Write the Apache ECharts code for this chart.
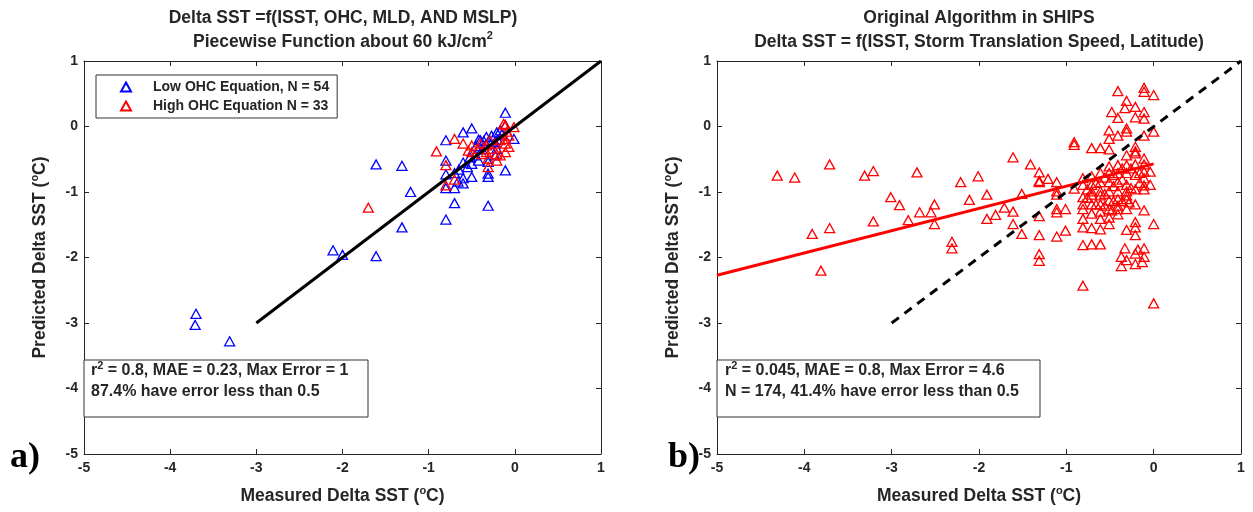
<!DOCTYPE html>
<html>
<head>
<meta charset="utf-8">
<script src="https://cdn.jsdelivr.net/npm/echarts@6/dist/echarts.min.js"></script>
<style>
  html, body { margin: 0; padding: 0; background: #fff; }
  #chart { width: 1253px; height: 512px; }
</style>
</head>
<body>
<div id="chart"></div>
<script>
// Panel a): predicted vs measured Delta SST, piecewise OHC model
const lowOhc = [
  [-3.70, -2.86], [-3.71, -3.03], [-3.31, -3.28], [-2.11, -1.89], [-2.00, -1.96],
  [-1.61, -1.98], [-1.61, -0.58], [-1.31, -0.60], [-1.21, -1.00], [-1.31, -1.54],
  [-0.80, -1.42], [-0.70, -1.17], [-0.31, -1.21], [-0.11, 0.21], [-0.11, -0.67],
  [-0.80, -0.21], [-0.60, -0.09], [-0.50, -0.03], [-0.80, -0.52], [-0.80, -0.73],
  [-0.80, -0.94], [-0.70, -0.94], [-0.70, -0.71], [-0.60, -0.55], [-0.60, -0.87],
  [-0.60, -0.79], [-0.50, -0.77], [-0.50, -0.57], [-0.46, -0.44], [-0.31, -0.77],
  [-0.31, -0.72], [-0.42, -0.20], [-0.40, -0.21], [-0.33, -0.16], [-0.27, -0.14],
  [-0.21, -0.09], [-0.11, 0.02], [-0.01, -0.19], [-0.21, -0.34], [-0.23, -0.44],
  [-0.31, -0.54], [-0.52, -0.47], [-0.23, -0.24], [-0.17, -0.06], [-0.45, -0.30],
  [-0.55, -0.62], [-0.65, -0.66], [-0.38, -0.35], [-0.28, -0.27], [-0.15, -0.12],
  [-0.42, -0.52], [-0.20, -0.20], [-0.36, -0.22], [-0.66, -0.84]
];
const highOhc = [
  [-1.70, -1.24], [-0.91, -0.38], [-0.70, -0.19], [-0.60, -0.26], [-0.80, -0.59],
  [-0.70, -0.81], [-0.80, -0.90], [-0.50, -0.29], [-0.50, -0.39], [-0.40, -0.26],
  [-0.42, -0.34], [-0.33, -0.29], [-0.33, -0.39], [-0.31, -0.49], [-0.31, -0.62],
  [-0.21, -0.52], [-0.21, -0.42], [-0.11, 0.02], [-0.13, 0.04], [-0.01, -0.01],
  [-0.11, -0.19], [-0.11, -0.26], [-0.11, -0.39], [-0.07, -0.14], [-0.17, -0.21],
  [-0.23, -0.26], [-0.27, -0.34], [-0.09, -0.08], [-0.38, -0.42], [-0.54, -0.37],
  [-0.07, -0.31], [-0.17, -0.44], [-0.29, -0.21]
];
const fitA = [[-3, -3], [1, 1]];

// Panel b): original SHIPS algorithm
const ships = [
  [-4.31, -0.75], [-4.11, -0.78], [-3.71, -0.58], [-3.91, -1.64], [-3.71, -1.55],
  [-3.81, -2.20], [-3.31, -0.75], [-3.21, -0.68], [-3.21, -1.45], [-3.01, -1.08],
  [-2.91, -1.20], [-2.81, -1.43], [-2.71, -0.70], [-2.68, -1.31], [-2.55, -1.31],
  [-2.51, -1.19], [-2.51, -1.49], [-2.31, -1.76], [-2.31, -1.86], [-2.21, -0.85],
  [-2.11, -1.12], [-2.01, -0.76], [-1.91, -1.04], [-1.91, -1.41], [-1.81, -1.35],
  [-1.71, -1.24], [-1.61, -0.47], [-1.61, -1.30], [-1.61, -1.49], [-1.51, -1.03],
  [-1.51, -1.64], [-1.41, -0.58], [-1.31, -0.70], [-1.31, -0.83], [-1.31, -0.85],
  [-1.31, -1.37], [-1.31, -1.66], [-1.31, -1.95], [-1.31, -2.05], [-1.21, -0.80],
  [-1.11, -0.85], [-1.11, -0.99], [-1.11, -1.04], [-1.11, -1.26], [-1.11, -1.31],
  [-1.11, -1.68], [-1.01, -1.26], [-1.01, -1.59], [-0.91, -0.24], [-0.91, -0.28],
  [-0.91, -0.95], [-0.81, -2.43], [-0.81, -1.81], [-0.81, -1.41], [-0.81, -1.54],
  [-0.81, -1.19], [-0.81, -1.26], [-0.81, -1.08], [-0.71, -0.33], [-0.71, -1.80],
  [-0.71, -1.55], [-0.61, -0.33], [-0.61, -1.80], [-0.61, -1.57], [-0.51, -0.35],
  [-0.41, 0.54], [-0.48, 0.22], [-0.51, -0.06], [-0.41, -0.14], [-0.41, 0.13],
  [-0.31, 0.39], [-0.33, 0.28], [-0.31, -0.03], [-0.31, -0.08], [-0.21, 0.30],
  [-0.21, 0.14], [-0.11, 0.59], [-0.11, 0.53], [-0.11, 0.22], [-0.11, 0.12],
  [-0.11, -0.14], [0.00, 0.48], [0.00, -0.08], [0.00, -1.49], [0.00, -2.70],
  [-0.11, -1.28], [-0.11, -1.99], [-0.13, -2.07], [-0.21, -2.10], [-0.18, -1.88],
  [-0.21, -1.66], [-0.21, -1.54], [-0.21, -1.46], [-0.31, -1.58], [-0.33, -1.86],
  [-0.37, -1.99], [-0.37, -2.13], [-0.31, -2.04], [-0.31, -1.26], [-0.28, -1.16],
  [-0.21, -0.38], [-0.21, -0.41], [-0.11, -0.49], [-0.11, -0.58], [-0.11, -0.69],
  [-0.11, -0.79], [-0.11, -0.90], [-0.04, -0.89], [-0.21, -0.58], [-0.21, -0.74],
  [-0.31, -0.59], [-0.31, -0.71], [-0.31, -0.89], [-0.31, -0.99], [-0.31, -1.05],
  [-0.21, -0.96], [-0.41, -0.71], [-0.41, -0.85], [-0.41, -0.99], [-0.41, -1.11],
  [-0.41, -1.21], [-0.41, -1.34], [-0.48, -1.28], [-0.51, -1.39], [-0.51, -1.49],
  [-0.51, -1.26], [-0.51, -1.13], [-0.51, -0.99], [-0.51, -0.85], [-0.51, -0.71],
  [-0.51, -0.61], [-0.61, -0.71], [-0.61, -0.85], [-0.61, -0.99], [-0.61, -1.05],
  [-0.61, -1.19], [-0.61, -1.30], [-0.61, -1.41], [-0.71, -0.76], [-0.71, -0.89],
  [-0.71, -0.99], [-0.71, -1.04], [-0.71, -1.33], [-0.71, -1.19], [-0.81, -0.79],
  [-0.81, -0.89], [-0.76, -0.96], [-0.56, -0.78], [-0.46, -0.91], [-0.36, -1.14],
  [-0.26, -0.94], [-0.16, -0.71], [-0.16, -0.86], [-0.26, -0.64], [-0.36, -0.81],
  [-0.46, -1.14], [-0.56, -1.03], [-0.66, -0.86], [-0.21, -0.31], [-0.41, -1.26],
  [-0.31, -1.11], [-0.11, -0.96], [-0.04, -0.69], [-0.21, -1.19], [-0.36, -0.64],
  [-0.46, -0.74], [-0.56, -1.21], [-0.66, -1.19], [-0.76, -1.09], [-0.11, -1.86],
  [-0.21, -1.94], [-0.51, -0.19], [-0.31, -0.44], [-0.41, -0.59]
];
const fitB = [[-5, -2.27], [0, -0.57]];
const oneToOne = [[-3, -3], [1, 1]];

const legendNames = ['Low OHC Equation, N = 54', 'High OHC Equation N = 33'];
const statsA = ['r{sup|2} = 0.8, MAE = 0.23, Max Error = 1', '87.4% have error less than 0.5'];
const statsB = ['r{sup|2} = 0.045, MAE = 0.8, Max Error = 4.6', 'N = 174, 41.4% have error less than 0.5'];
const titleA = ['Delta SST =f(ISST, OHC, MLD, AND MSLP)', 'Piecewise Function about 60 kJ/cm{sup|2}'];
const titleB = ['Original Algorithm in SHIPS', 'Delta SST = f(ISST, Storm Translation Speed, Latitude)'];
const xName = 'Measured Delta SST ({sup|o}C)';
const yName = 'Predicted Delta SST ({sup|o}C)';

const FONT = '"Liberation Sans", Arial, Helvetica, sans-serif';
const AXIS_COLOR = '#262626';
const TEXT_COLOR = '#262626';
const supStyle = { fontSize: 11, fontWeight: 'bold', fontFamily: FONT, verticalAlign: 'top', lineHeight: 11, color: TEXT_COLOR };

const chart = echarts.init(document.getElementById('chart'), null, { renderer: 'canvas', width: 1253, height: 512 });

const grids = [
  { left: 84, top: 61, width: 517, height: 394 },
  { left: 717, top: 61, width: 524, height: 394 }
];

const nameStyle = {
  fontFamily: FONT, fontWeight: 'bold', fontSize: 17.5, color: TEXT_COLOR, lineHeight: 22,
  rich: { sup: supStyle }
};
const labelStyle = { fontFamily: FONT, fontWeight: 'bold', fontSize: 14, color: TEXT_COLOR };

function mainX(gi) {
  return {
    type: 'value', gridIndex: gi, min: -5, max: 1, interval: 1, position: 'bottom',
    name: xName, nameLocation: 'middle', nameGap: 31, nameTextStyle: nameStyle,
    axisLine: { onZero: false, lineStyle: { color: AXIS_COLOR, width: 1 } },
    axisTick: { inside: true, length: 5, lineStyle: { color: AXIS_COLOR } },
    axisLabel: Object.assign({ margin: 7 }, labelStyle),
    splitLine: { show: false }
  };
}
function mainY(gi) {
  return {
    type: 'value', gridIndex: gi, min: -5, max: 1, interval: 1, position: 'left',
    name: yName, nameLocation: 'middle', nameGap: 33, nameRotate: 90, nameTextStyle: nameStyle,
    axisLine: { onZero: false, lineStyle: { color: AXIS_COLOR, width: 1 } },
    axisTick: { inside: true, length: 5, lineStyle: { color: AXIS_COLOR } },
    axisLabel: Object.assign({ margin: 6 }, labelStyle),
    splitLine: { show: false }
  };
}
function boxAxis(gi, position) {
  return {
    type: 'value', gridIndex: gi, min: -5, max: 1, interval: 1, position,
    axisLine: { onZero: false, lineStyle: { color: AXIS_COLOR, width: 1 } },
    axisTick: { inside: true, length: 5, lineStyle: { color: AXIS_COLOR } },
    axisLabel: { show: false }, splitLine: { show: false }
  };
}

function triangles(name, data, color, xi, yi) {
  return {
    type: 'scatter', name, data, xAxisIndex: xi, yAxisIndex: yi,
    symbol: 'triangle', symbolSize: [10, 9],
    itemStyle: { color: 'rgba(0,0,0,0)', borderColor: color, borderWidth: 1.3, opacity: 1 },
    emphasis: { disabled: true }, silent: true, z: 2
  };
}
function fitLine(data, color, width, type, xi, yi) {
  return {
    type: 'line', data, xAxisIndex: xi, yAxisIndex: yi, symbol: 'none',
    lineStyle: { color, width, type, cap: 'butt' }, silent: true, z: 3
  };
}

function textBox(x, y, w, h, lines, textX, textY, lineGap) {
  return {
    type: 'group', children: [
      { type: 'rect', shape: { x, y, width: w, height: h },
        style: { fill: '#fff', stroke: '#333', lineWidth: 1 }, z: 10 },
      { type: 'text', z: 11,
        style: { x: textX, y: textY, text: lines.join('\n'), fill: TEXT_COLOR,
          font: 'bold 16px ' + FONT, lineHeight: lineGap, textVerticalAlign: 'middle',
          rich: { sup: supStyle } } }
    ]
  };
}
function titleText(cx, y, lines) {
  return {
    type: 'text', z: 11,
    style: { x: cx, y, text: lines.join('\n'), fill: TEXT_COLOR, textAlign: 'center',
      font: 'bold 17.5px ' + FONT, lineHeight: 24, rich: { sup: supStyle } }
  };
}

chart.setOption({
  animation: false,
  backgroundColor: '#fff',
  grid: grids,
  xAxis: [mainX(0), mainX(1), boxAxis(0, 'top'), boxAxis(1, 'top')],
  yAxis: [mainY(0), mainY(1), boxAxis(0, 'right'), boxAxis(1, 'right')],
  legend: {
    data: legendNames, orient: 'vertical', left: 96, top: 75,
    padding: [5, 8, 5, 24], itemGap: 5, itemWidth: 10, itemHeight: 9,
    borderColor: '#333', borderWidth: 1, backgroundColor: '#fff',
    textStyle: { fontFamily: FONT, fontWeight: 'bold', fontSize: 14, color: TEXT_COLOR, padding: [0, 0, 0, 17] },
    selectedMode: false, z: 12
  },
  series: [
    triangles(legendNames[0], lowOhc, '#0000ff', 0, 0),
    triangles(legendNames[1], highOhc, '#ff0000', 0, 0),
    fitLine(fitA, '#000', 3, 'solid', 0, 0),
    triangles('SHIPS', ships, '#ff0000', 1, 1),
    fitLine(fitB, '#ff0000', 3, 'solid', 1, 1),
    fitLine(oneToOne, '#000', 3, [9, 7], 1, 1)
  ],
  graphic: [
    titleText(343, 6, titleA),
    titleText(979, 6, titleB),
    textBox(84, 360, 284, 57, statsA, 91, 381, 21),
    textBox(717, 360, 323, 57, statsB, 725, 381, 21),
    { type: 'text', z: 11, style: { x: 10, y: 440, text: 'a)', fill: '#000', font: 'bold 36px "Liberation Serif", "Times New Roman", serif' } },
    { type: 'text', z: 11, style: { x: 668, y: 440, text: 'b)', fill: '#000', font: 'bold 36px "Liberation Serif", "Times New Roman", serif' } }
  ]
});
</script>
</body>
</html>
